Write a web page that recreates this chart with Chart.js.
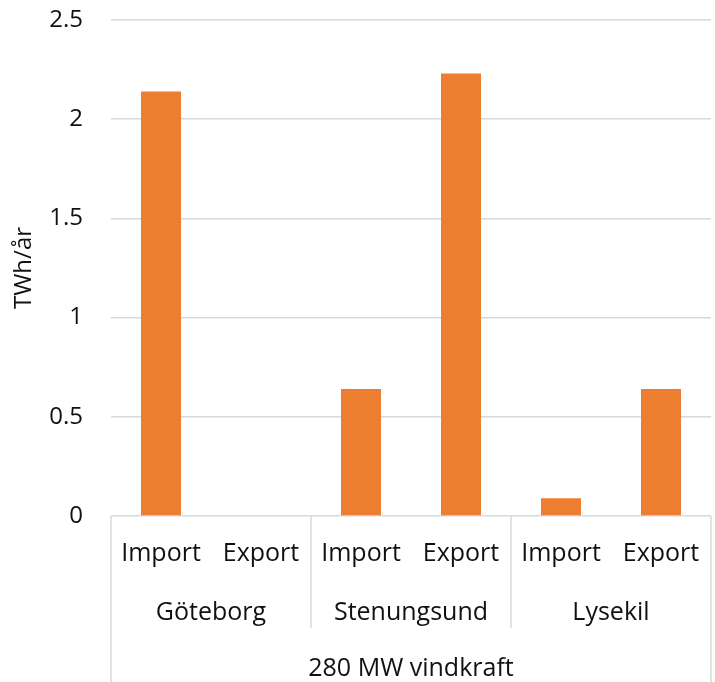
<!DOCTYPE html>
<html>
<head>
<meta charset="utf-8">
<script src="https://cdn.jsdelivr.net/npm/chart.js@4/dist/chart.umd.min.js"></script>
<style>
  html, body { margin: 0; padding: 0; background: #ffffff; }
  #wrap { width: 715px; height: 682px; position: relative; }
</style>
</head>
<body>
<div id="wrap"><canvas id="c"></canvas></div>
<script>
const flows = ["Import", "Export", "Import", "Export", "Import", "Export"];
const cities = ["Göteborg", "Stenungsund", "Lysekil"];
const scenario = ["280 MW vindkraft"];
const values = [2.14, 0, 0.64, 2.23, 0.09, 0.64];
const yTitle = "TWh/år";

const FONT = "'Open Sans', sans-serif";
const GRID = '#d9d9d9';
const TEXT = '#111111';

const separators = {
  id: 'separators',
  afterDraw(chart) {
    const ctx = chart.ctx;
    const x = chart.scales.x, x2 = chart.scales.x2;
    const top = chart.chartArea.bottom;
    ctx.save();
    ctx.strokeStyle = GRID;
    ctx.lineWidth = 1.5;
    const line = (px, y1, y2) => { ctx.beginPath(); ctx.moveTo(px, y1); ctx.lineTo(px, y2); ctx.stroke(); };
    line(x.left, top, chart.height);
    line(x.right, top, chart.height);
    const per = flows.length / cities.length;
    for (let g = 1; g < cities.length; g++) {
      const px = (x.getPixelForValue(g * per - 1) + x.getPixelForValue(g * per)) / 2;
      line(px, top, x2.bottom + 2);
    }
    ctx.restore();
  }
};

function fixBox(size, vertical) {
  return (scale) => {
    if (vertical) scale.width = size; else scale.height = size;
    scale.paddingLeft = 0; scale.paddingRight = 0;
    scale.paddingTop = 0; scale.paddingBottom = 0;
  };
}

new Chart(document.getElementById('c'), {
  type: 'bar',
  data: {
    labels: flows,
    datasets: [{
      data: values,
      backgroundColor: '#ED7D31',
      borderWidth: 0,
      barPercentage: 0.8,
      categoryPercentage: 0.5
    }]
  },
  options: {
    responsive: true,
    maintainAspectRatio: false,
    animation: false,
    layout: { padding: { top: 20, right: 4, bottom: 0, left: 10 } },
    plugins: { legend: { display: false }, tooltip: { enabled: false } },
    scales: {
      y: {
        min: 0, max: 2.5,
        afterFit: fixBox(101, true),
        ticks: { stepSize: 0.5, padding: 28, color: TEXT, font: { family: FONT, size: 24 },
                 callback: (v) => String(+Number(v).toFixed(1)) },
        grid: { color: GRID, lineWidth: 1.5, drawTicks: false },
        border: { display: false },
        title: { display: true, text: yTitle, color: TEXT, font: { family: FONT, size: 24 }, padding: { top: 0, bottom: 0 } }
      },
      x: {
        weight: 0,
        position: 'bottom',
        afterFit: fixBox(53, false),
        grid: { display: false, drawTicks: false },
        border: { display: false },
        ticks: { padding: 23, maxRotation: 0, autoSkip: false, color: TEXT, font: { family: FONT, size: 25 } }
      },
      x2: {
        type: 'category',
        weight: 1,
        position: 'bottom',
        labels: cities,
        afterFit: fixBox(57, false),
        grid: { display: false, drawTicks: false },
        border: { display: false },
        ticks: { padding: 29, maxRotation: 0, autoSkip: false, color: TEXT, font: { family: FONT, size: 25 } }
      },
      x3: {
        type: 'category',
        weight: 2,
        position: 'bottom',
        labels: scenario,
        afterFit: fixBox(56, false),
        grid: { display: false, drawTicks: false },
        border: { display: false },
        ticks: { padding: 28, maxRotation: 0, autoSkip: false, color: TEXT, font: { family: FONT, size: 25 } }
      }
    }
  },
  plugins: [separators]
});
</script>
</body>
</html>
